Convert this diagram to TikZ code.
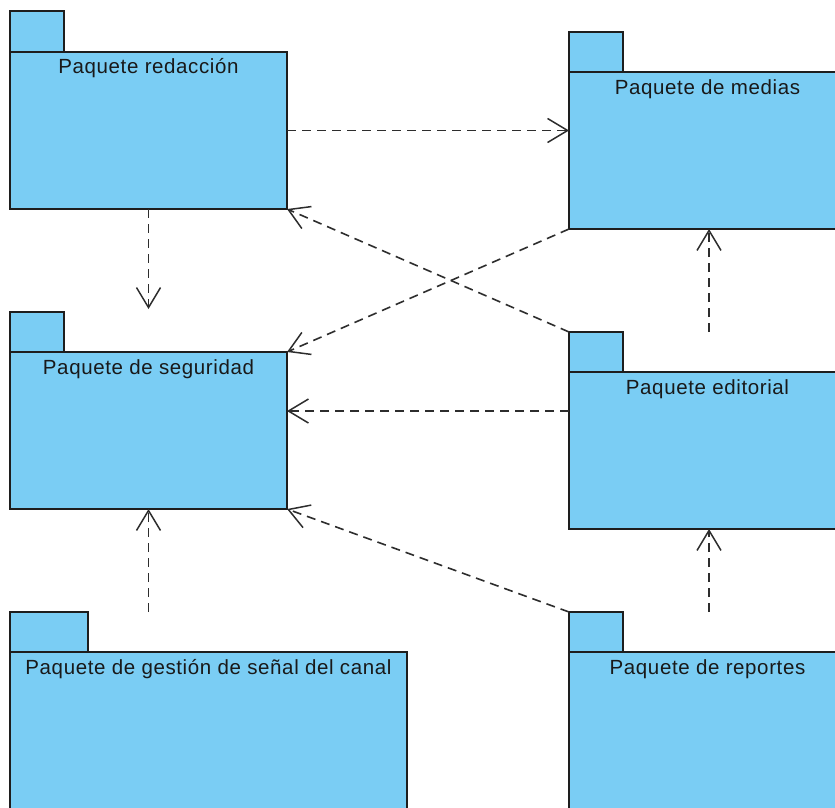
\documentclass[tikz,border=0pt]{standalone}
\usepackage{fontspec}
\setmainfont[LetterSpace=3]{Liberation Sans}
\usetikzlibrary{arrows.meta,calc}
\definecolor{pkgfill}{RGB}{122,205,244}
\definecolor{pkgline}{RGB}{30,30,30}
\definecolor{depline}{RGB}{45,45,45}
\begin{document}
\begin{tikzpicture}[x=1pt,y=-1pt,
  pkgbox/.style={draw=pkgline, fill=pkgfill, line width=1.3pt, inner sep=0pt, outer sep=0pt, anchor=north west},
  pkglabel/.style={anchor=base, inner sep=0pt, text=black!90, font=\fontsize{20.5}{24}\selectfont},
  dep/.style={draw=depline, line width=1.6pt, dash pattern=on 9pt off 6pt,
    -{Straight Barb[length=20pt,width=24pt,line width=1.5pt]}}]
\useasboundingbox (0,0) rectangle (835,808);
% Paquete redaccion
\node[pkgbox, minimum width=54pt, minimum height=41pt] (redtab) at (10,11) {};
\node[pkgbox, minimum width=277pt, minimum height=157pt] (red) at (10,52) {};
\node[pkglabel] (redlbl) at ([yshift=-22pt]red.north) {Paquete redacción};
% Paquete de medias
\node[pkgbox, minimum width=54pt, minimum height=40pt] (medtab) at (569,32) {};
\node[pkgbox, minimum width=277pt, minimum height=157pt] (med) at (569,72) {};
\node[pkglabel] (medlbl) at ([yshift=-22pt]med.north) {Paquete de medias};
% Paquete de seguridad
\node[pkgbox, minimum width=54pt, minimum height=40pt] (segtab) at (10,312) {};
\node[pkgbox, minimum width=277pt, minimum height=157pt] (seg) at (10,352) {};
\node[pkglabel] (seglbl) at ([yshift=-22pt]seg.north) {Paquete de seguridad};
% Paquete editorial
\node[pkgbox, minimum width=54pt, minimum height=40pt] (editab) at (569,332) {};
\node[pkgbox, minimum width=277pt, minimum height=157pt] (edi) at (569,372) {};
\node[pkglabel] (edilbl) at ([yshift=-22pt]edi.north) {Paquete editorial};
% Paquete de gestion
\node[pkgbox, minimum width=78pt, minimum height=40pt] (gestab) at (10,612) {};
\node[pkgbox, minimum width=397pt, minimum height=157pt] (ges) at (10,652) {};
\node[pkglabel] (geslbl) at ([yshift=-22pt]ges.north) {Paquete de gestión de señal del canal};
% Paquete de reportes
\node[pkgbox, minimum width=54pt, minimum height=40pt] (reptab) at (569,612) {};
\node[pkgbox, minimum width=277pt, minimum height=157pt] (rep) at (569,652) {};
\node[pkglabel] (replbl) at ([yshift=-22pt]rep.north) {Paquete de reportes};
% dependencies
\draw[dep] (red.east) -- (red.east -| med.west);
\draw[dep] (red.south) -- ([yshift=3pt]red.south |- segtab.north);
\draw[dep] (med.south west) -- (seg.north east);
\draw[dep] (editab.north west) -- (red.south east);
\draw[dep] ([yshift=39.5pt]edi.west) -- ([yshift=39.5pt]edi.west -| seg.east);
\draw[dep] ([xshift=1.5pt]edi.north |- editab.north) -- ([xshift=1.5pt]med.south);
\draw[dep] (seg.south |- gestab.north) -- (seg.south);
\draw[dep] (reptab.north west) -- (seg.south east);
\draw[dep] ([xshift=1.5pt]rep.north |- reptab.north) -- ([xshift=1.5pt]edi.south);
\end{tikzpicture}
\end{document}
